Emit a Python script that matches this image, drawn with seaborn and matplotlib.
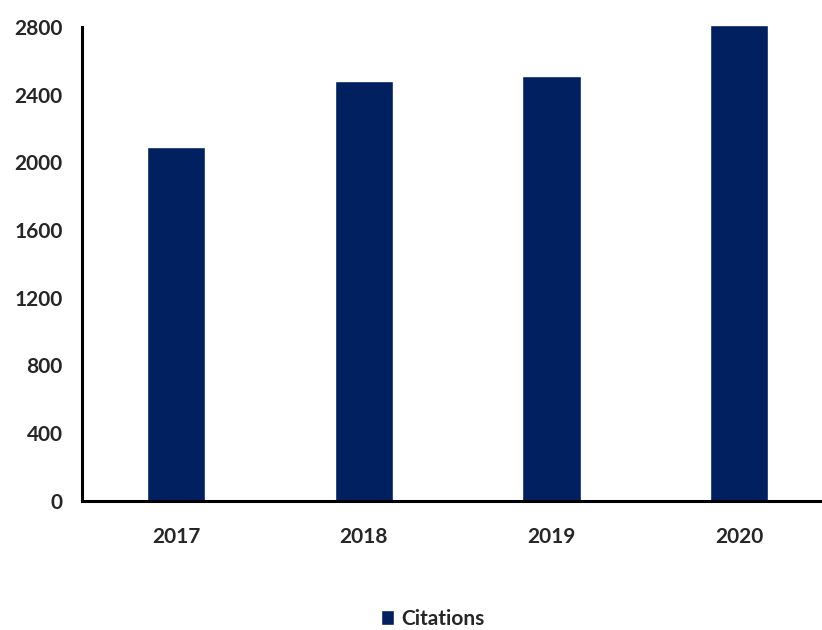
import matplotlib
matplotlib.use("Agg")
import pandas as pd
import matplotlib.pyplot as plt
import seaborn as sns

# data
years = ["2017", "2018", "2019", "2020"]
citations = [2090, 2483, 2512, 2810]

df = pd.DataFrame({"year": years, "Citations": citations})

sns.set_theme(style="white")
plt.rcParams["font.family"] = ["Lato", "DejaVu Sans"]

fig = plt.figure(figsize=(8.22, 6.3), dpi=100)
ax = fig.add_axes([0.0998, 0.205, 0.9002, 0.752])

sns.barplot(data=df, x="year", y="Citations", color="#002060", width=0.31,
            saturation=1, label="Citations", ax=ax)
for p in ax.patches:
    p.set_clip_on(False)

ax.set_ylim(0, 2800)
ax.set_xlim(-0.5, 3.44)
ax.set_yticks(range(0, 2801, 400))
ax.set_xlabel("")
ax.set_ylabel("")

for s in ["top", "right"]:
    ax.spines[s].set_visible(False)
for s in ["left", "bottom"]:
    ax.spines[s].set_color("black")
    ax.spines[s].set_linewidth(2.2)

ax.tick_params(axis="y", length=0, pad=14, labelsize=15)
ax.tick_params(axis="x", length=0, pad=19, labelsize=15)
for lab in ax.get_xticklabels() + ax.get_yticklabels():
    lab.set_fontweight("bold")

ax.legend(loc="lower center", bbox_to_anchor=(0.474, -0.31),
          frameon=False, prop={"weight": "bold", "size": 15},
          handlelength=0.6, handleheight=0.75, handletextpad=0.35)

fig.savefig("out.png", dpi=100)
